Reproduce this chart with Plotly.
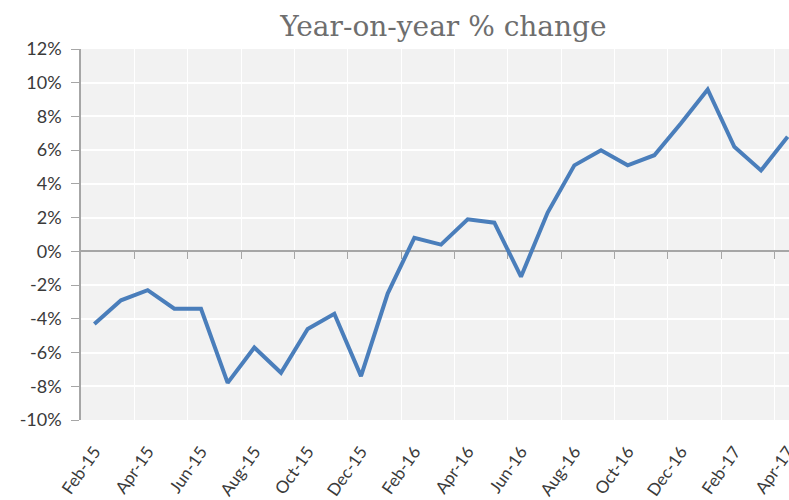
import plotly.graph_objects as go

# Monthly year-on-year change, Feb-2015 to Apr-2017
months = ["Feb-15", "Mar-15", "Apr-15", "May-15", "Jun-15", "Jul-15", "Aug-15",
          "Sep-15", "Oct-15", "Nov-15", "Dec-15", "Jan-16", "Feb-16", "Mar-16",
          "Apr-16", "May-16", "Jun-16", "Jul-16", "Aug-16", "Sep-16", "Oct-16",
          "Nov-16", "Dec-16", "Jan-17", "Feb-17", "Mar-17", "Apr-17"]
yoy_change = [-4.3, -2.9, -2.3, -3.4, -3.4, -7.8, -5.7, -7.2, -4.6, -3.7, -7.4,
              -2.5, 0.8, 0.4, 1.9, 1.7, -1.5, 2.3, 5.1, 6.0, 5.1, 5.7, 7.6,
              9.6, 6.2, 4.8, 6.8]
y_ticks = [-10, -8, -6, -4, -2, 0, 2, 4, 6, 8, 10, 12]
y_tick_text = [f"{v}%" for v in y_ticks]

idx = list(range(len(months)))
label_idx = idx[::2]
label_text = [months[i] for i in label_idx]
tick_between = [i + 1.5 for i in label_idx[:-1]]

x_range = [-0.5, 26.05]
axis_grey = "#a6a6a6"

fig = go.Figure()

# Invisible trace so the labelled bottom axis is drawn
fig.add_trace(go.Scatter(x=idx, y=yoy_change, xaxis="x", yaxis="y",
                         mode="lines", line=dict(width=0), opacity=0,
                         hoverinfo="skip", showlegend=False))

fig.add_trace(go.Scatter(x=idx, y=yoy_change, xaxis="x2", yaxis="y",
                         mode="lines", line=dict(color="#4a7ebb", width=4),
                         showlegend=False))

fig.update_layout(
    width=789, height=500,
    margin=dict(l=81, r=0, t=49, b=80),
    paper_bgcolor="white",
    plot_bgcolor="#f2f2f2",
    title=dict(text="Year-on-year % change", x=0.562, xanchor="center",
               y=0.928, yanchor="bottom",
               font=dict(family="DejaVu Serif", size=28, color="#6e6e6e")),
    xaxis=dict(range=x_range, tickmode="array", tickvals=label_idx,
               ticktext=label_text, tickangle=-55, showgrid=False,
               zeroline=False, showline=False, ticks="outside", ticklen=14,
               tickcolor="rgba(0,0,0,0)", automargin=False,
               ticklabeloverflow="allow",
               tickfont=dict(family="Lato", size=17, color="#3a3a3a")),
    xaxis2=dict(range=x_range, overlaying="x", anchor="free",
                position=10 / 22, tickmode="array", tickvals=tick_between,
                showticklabels=False, ticks="outside", ticklen=7,
                tickcolor=axis_grey, showline=True, linecolor=axis_grey,
                linewidth=1.5, showgrid=True, gridcolor="white", gridwidth=1,
                zeroline=False, layer="below traces"),
    yaxis=dict(range=[-10, 12], tickmode="array", tickvals=y_ticks,
               ticktext=y_tick_text,
               showgrid=True, gridcolor="white", gridwidth=2,
               zeroline=False, showline=True, linecolor=axis_grey,
               linewidth=1.5, ticks="outside", ticklen=8,
               tickcolor=axis_grey, automargin=False,
               ticklabelstandoff=6,
               tickfont=dict(family="Lato", size=18, color="#3a3a3a")),
)

fig.write_html("out.html")
